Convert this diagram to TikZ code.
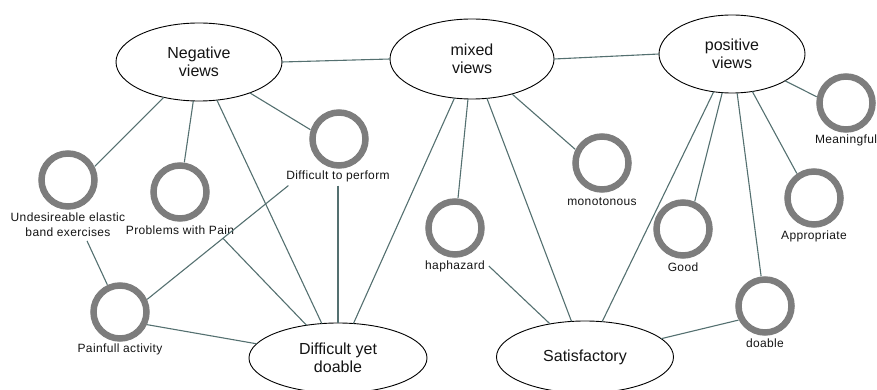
\documentclass[tikz,border=0pt]{standalone}
\usepackage{fontspec}
\setmainfont{Liberation Sans}
\newfontfamily\tagfont[LetterSpace=3]{Liberation Sans}
\usetikzlibrary{shapes.geometric}

\definecolor{linkcol}{RGB}{84,112,112}
\definecolor{ringcol}{RGB}{125,125,125}

\tikzset{
  view/.style={ellipse, draw=black, line width=0.9pt, fill=white,
    inner sep=0pt, outer sep=0pt, align=center, text=black!92,
    font=\fontsize{16}{18}\selectfont},
  ring/.style={circle, draw=ringcol, line width=6.5pt, minimum size=53pt,
    inner sep=0pt, outer sep=3.5pt},
  tag/.style={font=\tagfont\fontsize{12}{15}\selectfont, inner sep=1pt,
    outer sep=3pt, align=center, text=black!92},
  link/.style={draw=linkcol, line width=1.1pt},
}

\begin{document}
\begin{tikzpicture}[x=1pt, y=-1pt]
\useasboundingbox (0,0) rectangle (877,390);

% theme ellipses
\node[view, minimum width=166pt, minimum height=78pt] (nv)  at (199,62)  {Negative\\views};
\node[view, minimum width=164pt, minimum height=80pt] (mv)  at (472,59)  {mixed\\views};
\node[view, minimum width=146pt, minimum height=78pt] (pv)  at (732,54)  {positive\\views};
\node[view, minimum width=178pt, minimum height=70pt] (dyd) at (338,358) {Difficult yet\\doable};
\node[view, minimum width=177pt, minimum height=72pt] (sat) at (585,357) {Satisfactory};

% code rings
\node[ring] (und)  at (68,180)  {};
\node[ring] (pwp)  at (180,192) {};
\node[ring] (dtp)  at (339,139) {};
\node[ring] (pa)   at (120,312) {};
\node[ring] (hap)  at (455,228) {};
\node[ring] (mon)  at (602,163) {};
\node[ring] (good) at (683,229) {};
\node[ring] (app)  at (814,198) {};
\node[ring] (mean) at (846,103) {};
\node[ring] (doa)  at (765,306) {};

% ring captions
\node[tag] (undl)  at (68,225)  {Undesireable elastic\\band exercises};
\node[tag] (pwpl)  at (180,230) {Problems with Pain};
\node[tag] (dtpl)  at (338,176) {Difficult to perform};
\node[tag] (pal)   at (120,349) {Painfull activity};
\node[tag] (hapl)  at (455,266) {haphazard};
\node[tag] (monl)  at (602,202) {monotonous};
\node[tag] (goodl) at (683,267) {Good};
\node[tag] (appl)  at (814,236) {Appropriate};
\node[tag] (meanl) at (846,140) {Meaningful};
\node[tag] (doal)  at (765,343) {doable};

% links from negative views
\draw[link] (nv.east) -- (mv.west);
\draw[link] (nv) -- (und.27);
\draw[link] (nv) -- (pwp);
\draw[link] (nv) -- (dyd);
\draw[link] (nv) -- (dtp.162);

% links around difficult yet doable
\draw[link] ([xshift=19pt]undl.south) -- (pa);
\draw[link] ([xshift=6pt]dtpl.south west) -- (pa.25);
\draw[link] (dtpl.south) -- (dyd.north);
\draw[link] ([xshift=-15pt]pwpl.south east) -- (dyd);
\draw[link] (pa.-25) -- (dyd);

% links from mixed views
\draw[link] (mv) -- (dyd);
\draw[link] (mv) -- (hap);
\draw[link] (mv) -- (sat);
\draw[link] (mv) -- (mon.153);
\draw[link] (hapl.east) -- (sat);
\draw[link] (mv.east) -- (pv.west);

% links from positive views
\draw[link] (pv) -- (mean.168);
\draw[link] (pv) -- (app.125);
\draw[link] (pv) -- (doa);
\draw[link] (pv) -- (good.67);
\draw[link] (pv) -- (sat);
\draw[link] (doa.208) -- (sat);
\end{tikzpicture}
\end{document}
